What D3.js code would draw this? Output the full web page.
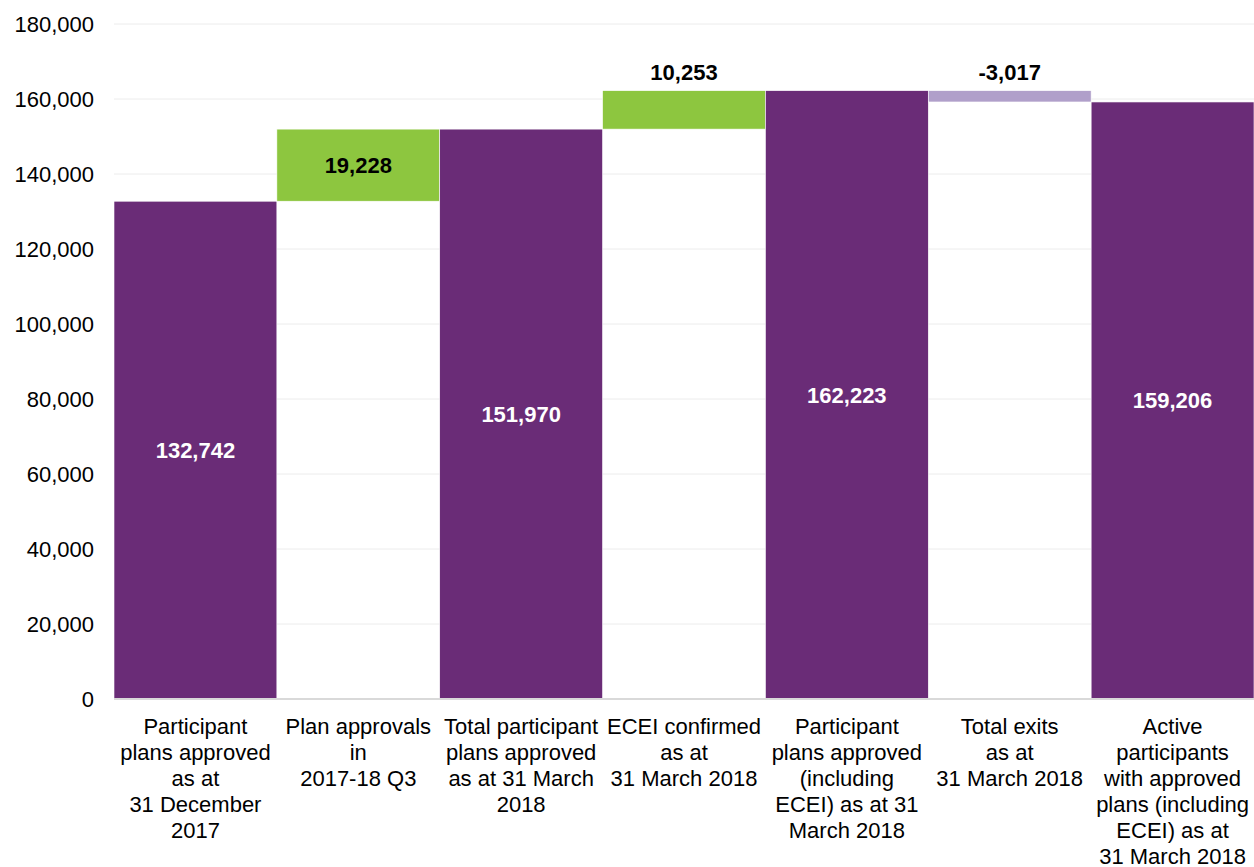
<!DOCTYPE html>
<html>
<head>
<meta charset="utf-8">
<script src="https://cdn.jsdelivr.net/npm/d3@7.9.0/dist/d3.min.js"></script>
<style>
  body { margin: 0; background: #fff; }
  svg { display: block; font-family: "Liberation Sans", Arial, sans-serif; }
</style>
</head>
<body>
<svg id="chart" width="1254" height="867"></svg>
<script>
// category labels, already broken into lines as in the original
const categories = [
  ['Participant', 'plans approved', 'as at', '31 December', '2017'],
  ['Plan approvals', 'in', '2017-18 Q3'],
  ['Total participant', 'plans approved', 'as at 31 March', '2018'],
  ['ECEI confirmed', 'as at', '31 March 2018'],
  ['Participant', 'plans approved', '(including', 'ECEI) as at 31', 'March 2018'],
  ['Total exits', 'as at', '31 March 2018'],
  ['Active', 'participants', 'with approved', 'plans (including', 'ECEI) as at', '31 March 2018']
];
const values = [132742, 19228, 151970, 10253, 162223, -3017, 159206];
const kinds = ['total', 'delta', 'total', 'delta', 'total', 'delta', 'total'];
const yTicks = [0, 20000, 40000, 60000, 80000, 100000, 120000, 140000, 160000, 180000];

const svg = d3.select('#chart');
const margin = { top: 24, right: 0, bottom: 168, left: 114 };
const width = 1254 - margin.left - margin.right;
const height = 867 - margin.top - margin.bottom;
const g = svg.append('g').attr('transform', `translate(${margin.left},${margin.top})`);

// running base for the waterfall
let running = 0;
const bars = values.map((v, i) => {
  let lo, hi;
  if (kinds[i] === 'total') {
    lo = 0; hi = v; running = v;
  } else {
    lo = Math.min(running, running + v);
    hi = Math.max(running, running + v);
    running += v;
  }
  return { i, v, lo, hi, kind: kinds[i] };
});

const x = d3.scaleBand().domain(d3.range(categories.length)).range([0, width]).padding(0);
const y = d3.scaleLinear().domain([0, 180000]).range([height, 0]);

// gridlines
g.append('g')
  .selectAll('line')
  .data(yTicks.filter((d) => d > 0))
  .join('line')
  .attr('x1', 0).attr('x2', width)
  .attr('y1', (d) => y(d)).attr('y2', (d) => y(d))
  .attr('stroke', '#ececec').attr('stroke-width', 1);

// y axis labels
const yAxis = d3.axisLeft(y).tickValues(yTicks).tickFormat(d3.format(',')).tickSize(0).tickPadding(20);
const ya = g.append('g').call(yAxis);
ya.select('.domain').remove();
ya.selectAll('text').attr('font-size', 22).attr('fill', '#000').attr('font-family', '"Liberation Sans", Arial, sans-serif');

const colorFor = (b) => {
  if (b.kind === 'total') return '#6a2c77';
  return b.v >= 0 ? '#8dc63f' : '#b09fca';
};

g.append('g')
  .selectAll('rect')
  .data(bars)
  .join('rect')
  .attr('x', (d) => x(d.i))
  .attr('width', x.bandwidth())
  .attr('y', (d) => y(d.hi))
  .attr('height', (d) => y(d.lo) - y(d.hi))
  .attr('fill', colorFor)
  .attr('stroke', '#fff')
  .attr('stroke-width', 0.6);

// x axis baseline
g.append('line')
  .attr('x1', 0).attr('x2', width)
  .attr('y1', y(0)).attr('y2', y(0))
  .attr('stroke', '#d9d9d9').attr('stroke-width', 2);

// value labels
const fmt = (v) => d3.format(',')(v).replace('\u2212', '-');
g.append('g')
  .selectAll('text')
  .data(bars)
  .join('text')
  .attr('x', (d) => x(d.i) + x.bandwidth() / 2)
  .attr('y', (d) => {
    const h = y(d.lo) - y(d.hi);
    if (d.kind === 'delta' && h < 45) return y(d.hi) - 18;
    return (y(d.lo) + y(d.hi)) / 2;
  })
  .attr('dy', '0.35em')
  .attr('text-anchor', 'middle')
  .attr('font-size', 22)
  .attr('font-weight', 'bold')
  .attr('fill', (d) => (d.kind === 'total' ? '#fff' : '#000'))
  .text((d) => fmt(d.v));

// category labels
const cat = g.append('g')
  .selectAll('text')
  .data(categories)
  .join('text')
  .attr('x', (d, i) => x(i) + x.bandwidth() / 2)
  .attr('y', height + 35)
  .attr('text-anchor', 'middle')
  .attr('font-size', 22)
  .attr('fill', '#000');
cat.selectAll('tspan')
  .data((d) => d)
  .join('tspan')
  .attr('x', function () { return d3.select(this.parentNode).attr('x'); })
  .attr('dy', (d, j) => (j === 0 ? 0 : 26))
  .text((d) => d);
</script>
</body>
</html>
